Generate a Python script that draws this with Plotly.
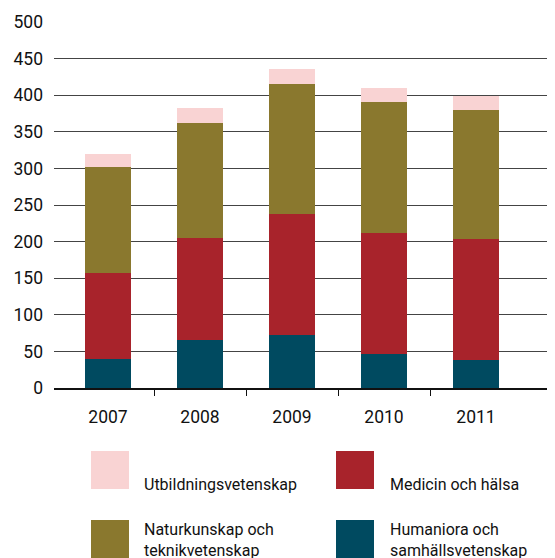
import plotly.graph_objects as go

years = [2007, 2008, 2009, 2010, 2011]

humaniora = [39, 65, 72, 47, 38]
medicin = [118, 140, 166, 165, 166]
naturkunskap = [145, 157, 177, 179, 176]
utbildning = [18, 20, 21, 19, 19]

y_ticks = [0, 50, 100, 150, 200, 250, 300, 350, 400, 450, 500]

FONT = "Roboto, sans-serif"

# stacked bottom -> top
series = [
    ("Humaniora och<br>samhällsvetenskap", humaniora, "#004a60"),
    ("Medicin och hälsa", medicin, "#a8232b"),
    ("Naturkunskap och<br>teknikvetenskap", naturkunskap, "#8a782e"),
    ("Utbildningsvetenskap", utbildning, "#f9d3d3"),
]

fig = go.Figure()
for name, vals, col in series:
    fig.add_trace(go.Bar(x=years, y=vals, name=name, marker_color=col,
                         marker_line_width=0, showlegend=False))

# page body has an 8px margin, so the figure starts at (8, 8) in the window
OFF = 8
W, H = 555 - OFF, 558 - OFF
ml, mr, mt, mb = 54 - OFF, 0, 22 - OFF, 558 - 388
pw, ph = W - ml - mr, H - mt - mb


def px(x):
    return (x - OFF - ml) / pw


def py(y):
    return (H - mb - (y - OFF)) / ph


# custom legend with large square swatches (2 x 2 grid)
legend_order = [3, 1, 2, 0]
cols_x = [(91, 142), (336, 388)]
rows_y = [(451, 473), (520, 518)]
for i, idx in enumerate(legend_order):
    name, _, col = series[idx]
    (sx, tx) = cols_x[i % 2]
    (sy, ty) = rows_y[i // 2]
    fig.add_shape(type="rect", xref="paper", yref="paper",
                  x0=px(sx), x1=px(sx + 38), y0=py(sy), y1=py(sy + 38),
                  fillcolor=col, line_width=0)
    fig.add_annotation(text=name, xref="paper", yref="paper",
                       x=px(tx), y=py(ty), xanchor="left", yanchor="top",
                       align="left", showarrow=False,
                       font=dict(family=FONT, size=16, color="#111"))

fig.update_layout(
    width=W, height=H,
    margin=dict(l=ml, r=mr, t=mt, b=mb),
    barmode="stack", bargap=0.5,
    plot_bgcolor="white", paper_bgcolor="white",
    font=dict(family=FONT, color="#111"),
    xaxis=dict(
        range=[years[0] - 54 / 92, years[0] + (pw - 54) / 92],
        tickvals=years, ticktext=[str(y) for y in years],
        ticks="", showgrid=False, zeroline=False, automargin=False,
        showline=True, linecolor="#111", linewidth=1.5,
        ticklabelstandoff=12,
        tickfont=dict(size=17.5, color="#111"),
        minor=dict(tickvals=[y + 0.5 for y in years[:-1]], ticks="outside",
                   ticklen=6, tickcolor="#111", tickwidth=1.2, showgrid=False),
    ),
    yaxis=dict(
        range=[0, 500], tickvals=y_ticks,
        showgrid=True, gridcolor="#444", gridwidth=1.4,
        zeroline=False, showline=False, ticks="", automargin=False,
        ticklabelstandoff=10,
        tickfont=dict(size=17.5, color="#111"),
    ),
)

fig.write_html("out.html")
